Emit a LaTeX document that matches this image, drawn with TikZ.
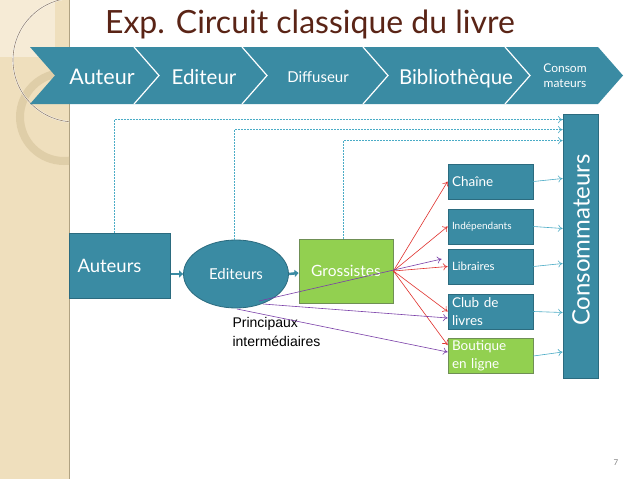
\documentclass[tikz,border=0pt]{standalone}
\usepackage{fontspec}
\setmainfont{Lato}
\newfontfamily\arialfont{Liberation Sans}
\usetikzlibrary{shapes.geometric,arrows.meta,calc}
\definecolor{bleucanard}{HTML}{3A8BA3}
\definecolor{bleubord}{HTML}{2B6B7F}
\definecolor{vertpomme}{HTML}{92D050}
\definecolor{vertbord}{HTML}{6F8F55}
\definecolor{titrebrun}{HTML}{5A2416}
\definecolor{beige}{HTML}{EFDFBD}
\definecolor{beigeclair}{HTML}{F6EBD6}
\definecolor{anneau}{HTML}{DCCAA3}
\definecolor{pointille}{HTML}{4BACC6}
\definecolor{rouge}{HTML}{E0302C}
\definecolor{violet}{HTML}{7A3FA8}
\newcommand{\fsz}[2]{\fontsize{#1}{#2}\selectfont}

\begin{document}
\begin{tikzpicture}[x=1pt, y=-1pt,
    boite/.style={rectangle, draw=bleubord, line width=0.8pt, fill=bleucanard, text=white, inner sep=0pt},
    boiteverte/.style={boite, draw=vertbord, fill=vertpomme},
    canal/.style={minimum width=85pt, minimum height=35pt, text width=77pt, align=left},
    etape/.style={text=white, anchor=base},
    flux/.style={draw=bleucanard, line width=2.5pt, -{Triangle[length=4pt,width=7pt]}},
    pointe/.style={line width=0.6pt, -{To[length=4.5pt,width=7pt]}},
    tirets/.style={pointe, draw=pointille, dash pattern=on 2pt off 1pt}]

% fond
\useasboundingbox (0,0) rectangle (638,479);
\fill[white] (0,0) rectangle (638,479);
\fill[beige] (0,0) rectangle (69,479);
\draw[anneau!80!black, line width=0.5pt] (69,0) -- (69,479);
\begin{scope}
    \clip (0,0) rectangle (69,479);
    \fill[beigeclair] (0,0) rectangle (55,57);
    \draw[anneau, line width=8pt, opacity=0.8] (64,117) circle (44);
    \draw[white, line width=1.4pt] (75,60) circle (62);
    \draw[gray!70!brown, line width=0.6pt] (75,60) circle (62);
\end{scope}

% titre
\node[text=titrebrun, anchor=base, font=\fsz{32}{38}] (titre) at (310,33) {Exp. Circuit classique du livre};

% bandeau
\foreach \a/\b in {30/134, 134/242, 242/363, 363/505, 505/598}
    \fill[bleucanard] (\a,47) -- (\b,47) -- (\b+25,75.5) -- (\b,104) -- (\a,104) -- (\a+25,75.5) -- cycle;
\foreach \b in {134, 242, 363, 505}
    \draw[white, line width=1.2pt] (\b,47) -- (\b+25,75.5) -- (\b,104);

\node[etape, font=\fsz{21.5}{25}] (etAuteur) at (102,84.5) {Auteur};
\node[etape, font=\fsz{20.5}{24}] (etEditeur) at (204,84.5) {Editeur};
\node[etape, font=\fsz{15}{17}] (etDiffuseur) at (318,82) {Diffuseur};
\node[etape, font=\fsz{20.5}{24}] (etBiblio) at (456,84.5) {Bibliothèque};
\node[text=white, align=center, font=\fsz{12}{15}] (etConso) at (565,76) {Consom\\mateurs};

% acteurs
\node[boite, minimum width=101pt, minimum height=65pt, text width=85pt, align=left, font=\fsz{18.5}{22}] (auteurs) at (120,266) {Auteurs};
\node[boite, ellipse, minimum width=105pt, minimum height=68pt, font=\fsz{15}{18}] (editeurs) at (236,274) {Editeurs};
\node[boiteverte, minimum width=94pt, minimum height=64pt, font=\fsz{15.5}{18}] (grossistes) at (346,271) {Grossistes};

\node[boite, canal, font=\fsz{13.5}{16}] (chaine) at (490.5,181.5) {Chaîne};
\node[boite, canal, font=\fsz{10}{12}] (indep) at (490.5,226.5) {Indépendants};
\node[boite, canal, font=\fsz{11.5}{14}] (libraires) at (490.5,266.5) {Libraires};
\node[boite, canal, font=\fsz{13.5}{18.5}] (club) at (490.5,311.5) {Club de\\livres};
\node[boiteverte, canal, font=\fsz{13.5}{18.5}] (boutique) at (490.5,356) {Boutique\\en ligne};

\node[boite, minimum width=35pt, minimum height=264pt] (conso) at (580.5,246) {};
\node[text=white, rotate=90, font=\fsz{24}{28}] (consoTexte) at (581,240) {Consommateurs};

\node[anchor=west, align=left, font=\arialfont\fsz{14}{19}] (principaux) at (229,332) {Principaux\\intermédiaires};

% fleches
\draw[tirets] ([xshift=-6pt]auteurs.north) |- ($(conso.north west)+(0,6)$);
\draw[tirets] ([xshift=-2pt]editeurs.north) |- ($(conso.north west)+(0,16)$);
\draw[tirets] ([xshift=-3pt]grossistes.north) |- ($(conso.north west)+(0,27)$);

\draw[flux] ([yshift=-8pt]auteurs.east) -- (editeurs.west);
\draw[flux] (editeurs.east) -- ([yshift=-2pt]grossistes.west);

\foreach \n in {chaine, indep, libraires, club}
    \draw[pointe, rouge] (grossistes.east) -- (\n.west);
\draw[pointe, rouge] (grossistes.east) -- ($(boutique.west)+(0,-11)$);

\draw[pointe, violet] ($(editeurs.center)+(23,27)$) -- ($(libraires.west)+(-6,-7.5)$);
\draw[pointe, violet] ($(editeurs.center)+(27,30)$) -- ($(club.west)+(0,6.5)$);
\draw[pointe, violet] ($(editeurs.center)+(1,35)$) -- ($(boutique.west)+(0,-4)$);

\draw[pointe, pointille] (chaine.east) -- ($(chaine.east -| conso.west)+(0,-3)$);
\draw[pointe, pointille] (indep.east) -- ($(indep.east -| conso.west)+(0,2)$);
\draw[pointe, pointille] (libraires.east) -- ($(libraires.east -| conso.west)+(0,-3)$);
\draw[pointe, pointille] (club.east) -- ($(club.east -| conso.west)+(0,1)$);
\draw[pointe, pointille] (boutique.east) -- ($(boutique.east -| conso.west)+(0,-4)$);

\node[text=gray, font=\fsz{8}{10}] (page) at (616,463) {7};
\end{tikzpicture}
\end{document}
